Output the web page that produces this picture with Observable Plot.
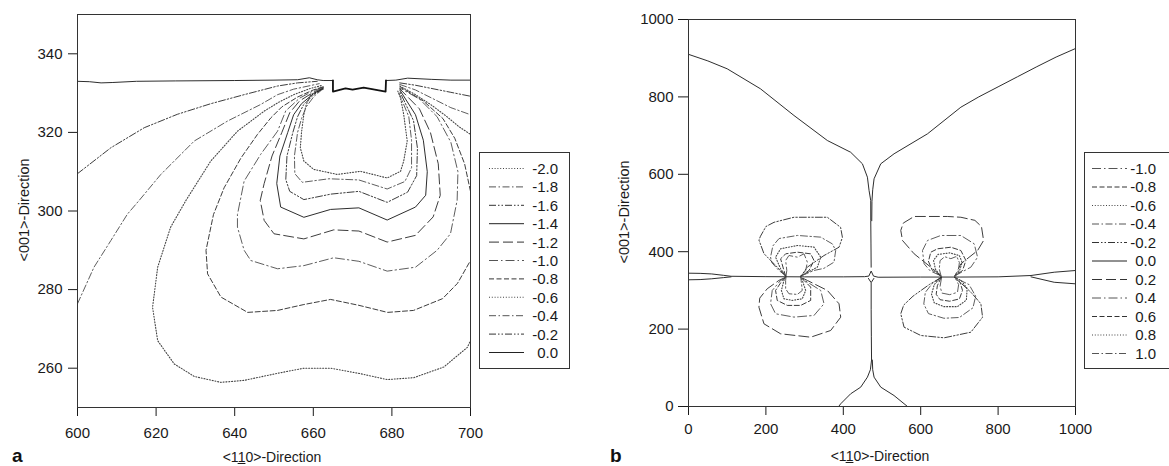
<!DOCTYPE html>
<html><head><meta charset="utf-8">
<script src="https://cdn.jsdelivr.net/npm/d3@7"></script>
<script src="https://cdn.jsdelivr.net/npm/@observablehq/plot@0.6"></script>
<style>
body{margin:0;background:#fff;}
#wrap{position:relative;width:1169px;height:466px;overflow:hidden;font-family:"Liberation Sans",Arial,sans-serif;color:#1a1a1a;background:#fff;}
#wrap svg{position:absolute;}
.xt{position:absolute;font-size:14px;line-height:16px;white-space:nowrap;transform:translateX(-50%);}
</style></head><body><div id="wrap"></div><script>
// ---------- Panel a : axes ----------
const xTicksA = [600, 620, 640, 660, 680, 700];
const yTicksA = [260, 280, 300, 320, 340];
const levelsA = ["-2.0","-1.8","-1.6","-1.4","-1.2","-1.0","-0.8","-0.6","-0.4","-0.2","0.0"];

// ---------- Panel a : contour polylines [x, y] ----------
const a_00_left = [[600,333.0],[603,332.9],[606,332.6],[609,332.7],[615,333.0],[625,333.1],[640,333.2],[650,333.3],[656,333.4],[659,333.9],[661,333.4],[662.5,333.2],[665,333.2]];
const a_00_right = [[678.5,333.2],[681,333.3],[684,333.8],[690,333.5],[695,333.3],[700,333.3]];
const a_notch = [[665,333.2],[665,330.4],[668.2,331.2],[670,330.9],[672.8,331.4],[674.6,331.1],[678.4,330.4],[678.5,333.2]];
const a_m02_left = [[600,309.5],[608.5,316.1],[617,321.2],[625.4,324.6],[633.9,327.3],[642.4,329.6],[650.9,331.8],[656,332.6],[661,333.0]];
const a_m02_right = [[682,332.6],[686,332.0],[690,331.2],[695,330.2],[700,329.2]];
const a_m04_left = [[600,276.4],[604.2,285.7],[608.5,292.5],[612.7,299.2],[615.7,302.7],[621.2,309.3],[629.7,317.8],[638.2,322.9],[646.6,327.1],[650.9,329.6],[655,331.0],[661.5,332.4]];
const a_m04_right = [[682,332.2],[686,330.8],[690,328.8],[695,326.3],[700,324.5]];
const a_m06_main = [[662,331.9],[659,331.1],[655,329.6],[650.9,327.5],[647.5,325.4],[640.7,320.3],[633.9,312.7],[627.6,302.7],[623.7,295.9],[620.4,285.7],[619.1,275.5],[620.4,267],[624.6,261.1],[629.7,257.9],[636.5,256.4],[642.4,256.9],[650.9,258.7],[657.6,260],[664.4,260],[672,258.6],[678.8,257.1],[685.6,257.6],[693.2,260.3],[699.2,265.3],[700,267]];
const a_m06_right = [[682,331.8],[686,329.6],[690,327],[694,324],[697,321.5],[700,319.5]];
const a_m08_main = [[662.5,331.6],[660,330.8],[656,329],[652,326.5],[649.2,323.7],[645.8,319.5],[641.6,313.5],[637.3,305.9],[634.6,299.1],[632.7,290],[633.1,284],[636.5,278.1],[643.3,274.2],[650.9,274.7],[657.6,276.2],[664.4,277.5],[671.6,276],[678.9,274.2],[685.5,274.7],[692.9,277.7],[696.7,281.6],[700,287.4]];
const a_m08_right = [[700,305],[698.5,312],[696,318.5],[693,323.5],[688,328],[682.2,331.5]];
const a_m10 = [[662.5,331.5],[660,330.6],[656.5,328.7],[653,325.5],[650.9,320.3],[646.6,314.4],[642.4,307.6],[640.7,299.1],[640.7,295.9],[642.4,290],[644.1,287.4],[650.9,285.3],[657.6,286.1],[665.2,288.1],[671.6,287.2],[678.8,284.7],[686,285.7],[691.5,290],[694.9,294.2],[696.6,302.7],[696.8,310],[695,317.5],[691.5,324],[687,328.5],[682,331.3]];
const a_m12 = [[662.5,331.4],[660,330.2],[656.5,328],[654,325],[652,320],[649.5,314],[647.5,307],[646.5,302.7],[647.5,297.6],[650,294.2],[657.6,292.9],[665.2,295.2],[671.6,294.9],[678.8,292.1],[686,293.8],[690.5,298.5],[692.3,304],[691.8,312],[689.8,320],[687,326],[682,331.1]];
const a_m14 = [[662.5,331.3],[660,329.8],[657,327.3],[655,324.5],[653.5,320],[651.5,314],[650.7,307],[651.7,301],[657.6,298.4],[664.4,300.4],[671.6,300.8],[678.8,297.7],[686,301],[688.6,304],[689,310],[688,318],[686,324.5],[682,330.8]];
const a_m16 = [[662.5,331.2],[660,329.5],[657.5,327],[656,324],[654.8,320],[653.3,314],[653,308],[654,305],[657.6,302.9],[664.5,304.3],[671.6,305],[678.8,302.2],[684,304.8],[686.3,309],[686.5,316],[685.5,323],[682,330.4]];
const a_m18 = [[662.5,331.1],[660.2,329.2],[658.2,326.5],[657,323.5],[656,320],[655.2,314],[655.3,309.5],[657.2,307.3],[664,308.2],[671.6,307.9],[678.8,305.6],[683.3,307.5],[685,311],[685,318],[684.3,324],[681.8,330]];
const a_m20 = [[662.5,331],[659.3,329.6],[658.2,327],[657.6,324.6],[657,320],[656.7,316.1],[657.6,312.7],[660.1,310.6],[666.1,309.3],[672,310.1],[678.8,308.4],[682.2,310.1],[683,312.7],[683.9,317.8],[683,324.6],[682.2,328.8],[681.5,330.5]];

// ---------- Panel b : axes ----------
const xTicksB = [0, 200, 400, 600, 800, 1000];
const yTicksB = [0, 200, 400, 600, 800, 1000];
const levelsB = ["-1.0","-0.8","-0.6","-0.4","-0.2","0.0","0.2","0.4","0.6","0.8","1.0"];

// ---------- Panel b : contour polylines [x, y] ----------
const b_00_topLeft = [[0,910],[50,893],[100,872.6],[186,820.9],[272.5,752],[358.8,687.3],[419,657],[449.4,627.1],[462.3,592.5],[466.6,558],[470.9,532],[471,480],[471.5,420],[472,360]];
const b_00_topRight = [[1000,925],[950,903],[900,878],[850,852],[800,826],[750,800],[703.8,773.4],[617.6,704.6],[531.2,653],[496.8,627.1],[479.5,588.4],[476,560],[474,530],[473.5,480]];
const b_00_botLeft = [[472,318],[472,250],[472.5,180],[473,120],[470,95],[462.3,75.8],[445,50],[419,32.8],[393.3,7],[388,0]];
const b_00_botRight = [[475,120],[476,95],[479.5,75.8],[496.8,50],[531,28.4],[565.8,0]];
const b_00_horiz = [[0,344.5],[30,344],[60,342.5],[90,339],[110,336.5],[200,335.5],[300,335],[400,335],[455,335.5],[466,337],[472,350],[478,337],[490,334],[600,334.5],[700,334.5],[800,335],[885,338.5],[945,347],[1000,351.4]];
const b_00_horizLowL = [[0,327.4],[30,328],[60,330],[90,333],[110,335]];
const b_00_horizLowR = [[885,335],[945,321],[1000,317]];
const b_00_cross = [[465,331],[472,320],[479,331]];

const bL_m02 = [[251,337],[229.5,360],[195,395],[182,430],[186,440],[200,465],[221,476],[272.5,489],[358.8,489],[393,463],[397.7,437],[389,411.6],[350,390],[307,360],[290,336]];
const bL_m04 = [[251,338],[233.6,351.5],[215,372],[212,386],[218,415],[234,434],[281.3,442],[341.6,437.6],[372,420],[380.3,403],[376,373],[350,357],[324.3,351.5],[290,337]];
const bL_m06 = [[251,337.5],[238,355.8],[225,385.9],[238,407.5],[281.3,416.1],[324.3,411.8],[341.6,385.9],[333,360.1],[290,337]];
const bL_m08 = [[251,337],[246.6,351.5],[238,381.6],[251,394.5],[281.3,398.8],[315.7,394.5],[324.3,377.3],[311.4,351.5],[290,336.5]];
const bL_m10 = [[252,337],[254,351.5],[251,377.3],[259.6,390.2],[281.3,385.9],[298.5,394.5],[307.1,373],[302.8,351.5],[290,336.5]];
const bL_p02 = [[251,334],[233.6,325.8],[203.4,304.2],[184,280],[182,256.6],[195,213.7],[238,187.9],[315.7,179.1],[367.4,196.4],[393.3,230.8],[389,265.4],[358.8,299.9],[307,325.8],[290,334]];
const bL_p04 = [[251,334],[238,325.8],[216.4,299.9],[212,265.5],[225,239.6],[272.5,231],[324.3,235.3],[350.2,265.5],[341.6,299.9],[307.1,321.5],[290,334]];
const bL_p06 = [[251,334],[242.3,325.8],[225,299.9],[229.3,274.1],[255.3,261.2],[289.8,261.2],[315.7,274.1],[315.7,308.5],[298.5,325.8],[290,334]];
const bL_p08 = [[251,334],[246.6,325.8],[240,299.9],[246.6,278.4],[268,274.1],[294,278.4],[302.8,299.9],[294,325.8],[290,334]];
const bL_p10 = [[252,334],[251,325.8],[251,304],[259.6,291.3],[281.3,289.6],[294,299.9],[291,325.8],[290,334]];

const bR_p02 = [[652,338.5],[626,360],[583,394.6],[553,429],[548.5,455],[555,474],[583,491],[669.3,491],[703.8,489],[740,481],[757,465],[762.5,429],[747,403],[703.8,368.7],[688,337]];
const bR_p04 = [[652,338],[625,350],[608.8,368.7],[604.6,403],[617.6,429],[652,441.9],[703.8,441.9],[738.2,420.4],[747,385.8],[729.6,360],[688,337.5]];
const bR_p06 = [[652,337],[630,352],[620,375],[626,398.7],[643.5,407.5],[678,411.6],[703.8,403],[716.7,377.3],[708.2,351.4],[688,337]];
const bR_p08 = [[652,336.5],[638,355],[633,378],[645,393],[675,397],[700,390],[707,372],[700,350],[688,336.5]];
const bR_p10 = [[653,336],[648,355],[650,377],[662,387],[678,382],[693,388],[700,372],[697,350],[688,336]];
const bR_m02 = [[652,333],[622,315],[580,285],[556,262],[548.5,239.5],[557,205],[600.3,183.5],[660.5,177.5],[729.6,192],[759.9,230.8],[755.5,265.4],[730,295],[705,318],[688,333]];
const bR_m04 = [[652,333],[630,318],[612,295],[608,265],[620,240],[660,228],[700,230],[735,255],[742,285],[725,315],[688,333]];
const bR_m06 = [[652,334],[635,315],[628,290],[635,268],[660,258],[695,258],[718,275],[720,305],[705,325],[688,334]];
const bR_m08 = [[653,334],[643,312],[640,290],[650,276],[675,272],[700,278],[708,300],[702,320],[688,334]];
const bR_m10 = [[654,334],[650,310],[655,293],[675,289],[695,295],[698,315],[688,334]];

// ---------- tables built from the arrays ----------
const piecesA = {
  "-2.0":[a_m20], "-1.8":[a_m18], "-1.6":[a_m16], "-1.4":[a_m14], "-1.2":[a_m12],
  "-1.0":[a_m10], "-0.8":[a_m08_main,a_m08_right], "-0.6":[a_m06_main,a_m06_right],
  "-0.4":[a_m04_left,a_m04_right], "-0.2":[a_m02_left,a_m02_right], "0.0":[a_00_left,a_00_right]
};
const piecesB = {
  "-1.0":[bL_m10,bR_m10], "-0.8":[bL_m08,bR_m08], "-0.6":[bL_m06,bR_m06], "-0.4":[bL_m04,bR_m04], "-0.2":[bL_m02,bR_m02],
  "0.0":[b_00_topLeft,b_00_topRight,b_00_botLeft,b_00_botRight,b_00_horiz,b_00_horizLowL,b_00_horizLowR,b_00_cross],
  "0.2":[bL_p02,bR_p02], "0.4":[bL_p04,bR_p04], "0.6":[bL_p06,bR_p06], "0.8":[bL_p08,bR_p08], "1.0":[bL_p10,bR_p10]
};

// ---------- styles ----------
const STYLE_CYCLE = ["solid","longdash","longdashdot","dash","dotted","dashdot","dashdotdot"];
const DASH = {solid:null, longdash:"10,4", longdashdot:"9,3,1.5,3", dash:"5,2.5", dotted:"1,1.8", dashdot:"7,2.5,1.5,2.5", dashdotdot:"7,2,1.5,2,1.5,2"};
const INK = {solid:"#222", longdash:"#333", longdashdot:"#555", dash:"#333", dotted:"#444", dashdot:"#555", dashdotdot:"#333"};
function styleOf(L){ const k = Math.round(+L*5); return STYLE_CYCLE[((k%7)+7)%7]; }
function rowsOf(pieces){ return pieces.flatMap((arr,i)=>arr.map(([x,y])=>({x,y,piece:i}))); }
function contourMarks(levels, pieces){
  return levels.map(L=>{
    const s = styleOf(L);
    return Plot.line(rowsOf(pieces[L]), {x:"x", y:"y", z:"piece", stroke:INK[s], strokeWidth: s==="dotted"?1.1:0.95,
      strokeDasharray: DASH[s] || undefined, curve:"linear", clip:true});
  });
}
const FONT = '"Liberation Sans", Arial, sans-serif';
const fmt = d3.format("d");

const wrap = document.getElementById("wrap");

const plotA = Plot.plot({
  width: 480, height: 466, marginLeft: 77, marginRight: 10, marginTop: 14, marginBottom: 59,
  style: {fontFamily: FONT, fontSize: "15px", color: "#1a1a1a", background: "transparent", overflow: "visible"},
  x: {domain: [600, 700], ticks: xTicksA, tickFormat: fmt, label: null, tickSize: 9, tickPadding: 11},
  y: {domain: [250, 350], ticks: yTicksA, tickFormat: fmt, label: null, tickSize: 9, tickPadding: 6},
  marks: [
    ...contourMarks(levelsA, piecesA),
    Plot.line(a_notch.map(([x,y])=>({x,y})), {x:"x", y:"y", stroke:"#111", strokeWidth:1.8}),
    Plot.frame({stroke:"#333", strokeWidth:1})
  ]
});
plotA.style.left = "0px"; plotA.style.top = "0px";
wrap.appendChild(plotA);

const plotB = Plot.plot({
  width: 485, height: 466, marginLeft: 88, marginRight: 10, marginTop: 19, marginBottom: 60,
  style: {fontFamily: FONT, fontSize: "15px", color: "#1a1a1a", background: "transparent", overflow: "visible"},
  x: {domain: [0, 1000], ticks: xTicksB, tickFormat: fmt, label: null, tickSize: 9, tickPadding: 8},
  y: {domain: [0, 1000], ticks: yTicksB, tickFormat: fmt, label: null, tickSize: 10, tickPadding: 5},
  marks: [
    ...contourMarks(levelsB, piecesB),
    Plot.frame({stroke:"#333", strokeWidth:1})
  ]
});
plotB.style.left = "600px"; plotB.style.top = "0px";
wrap.appendChild(plotB);

// ---------- overlay: legends, y titles, panel letters ----------
const ov = d3.select(wrap).append("svg").attr("width",1169).attr("height",466)
  .style("left","0px").style("top","0px").style("font-family",FONT);

function legend(levels, x0, y0, w, h, lx0, lx1, tx, step){
  const g = ov.append("g");
  g.append("rect").attr("x",x0).attr("y",y0).attr("width",w).attr("height",h)
    .attr("fill","#fff").attr("stroke","#333").attr("stroke-width",1);
  levels.forEach((L,i)=>{
    const s = styleOf(L), y = y0 + 16 + i*step;
    g.append("line").attr("x1",lx0).attr("x2",lx1).attr("y1",y).attr("y2",y)
      .attr("stroke",INK[s]).attr("stroke-width", s==="dotted"?1.1:1)
      .attr("stroke-dasharray", DASH[s]);
    g.append("text").attr("x",tx).attr("y",y).attr("dy","0.36em").attr("text-anchor","end")
      .attr("font-size",15).attr("fill","#1a1a1a").text(L);
  });
}
legend(levelsA, 479.5, 152.5, 90, 216, 489, 524, 558, 18.4);
legend(levelsB, 1084.5, 152.5, 100, 216, 1092, 1127, 1156, 18.5);

function ytitle(x, y){
  ov.append("text").attr("transform",`translate(${x},${y}) rotate(-90)`).attr("text-anchor","middle")
    .attr("dy","0.35em").attr("font-size",14.5).attr("fill","#1a1a1a").text("<001>-Direction");
}
ytitle(24, 210); ytitle(624, 212);
ov.append("text").attr("x",12).attr("y",462).attr("font-size",19).attr("font-weight","bold").attr("fill","#111").text("a");
ov.append("text").attr("x",610).attr("y",462).attr("font-size",19).attr("font-weight","bold").attr("fill","#111").text("b");

// ---------- x titles (HTML for the underlined digit) ----------
function xtitle(cx, top){
  const d = document.createElement("div");
  d.className = "xt"; d.style.left = cx + "px"; d.style.top = top + "px";
  d.innerHTML = '&lt;1<span style="text-decoration:underline">1</span>0&gt;-Direction';
  wrap.appendChild(d);
}
xtitle(272, 449); xtitle(880, 448);
</script></body></html>
